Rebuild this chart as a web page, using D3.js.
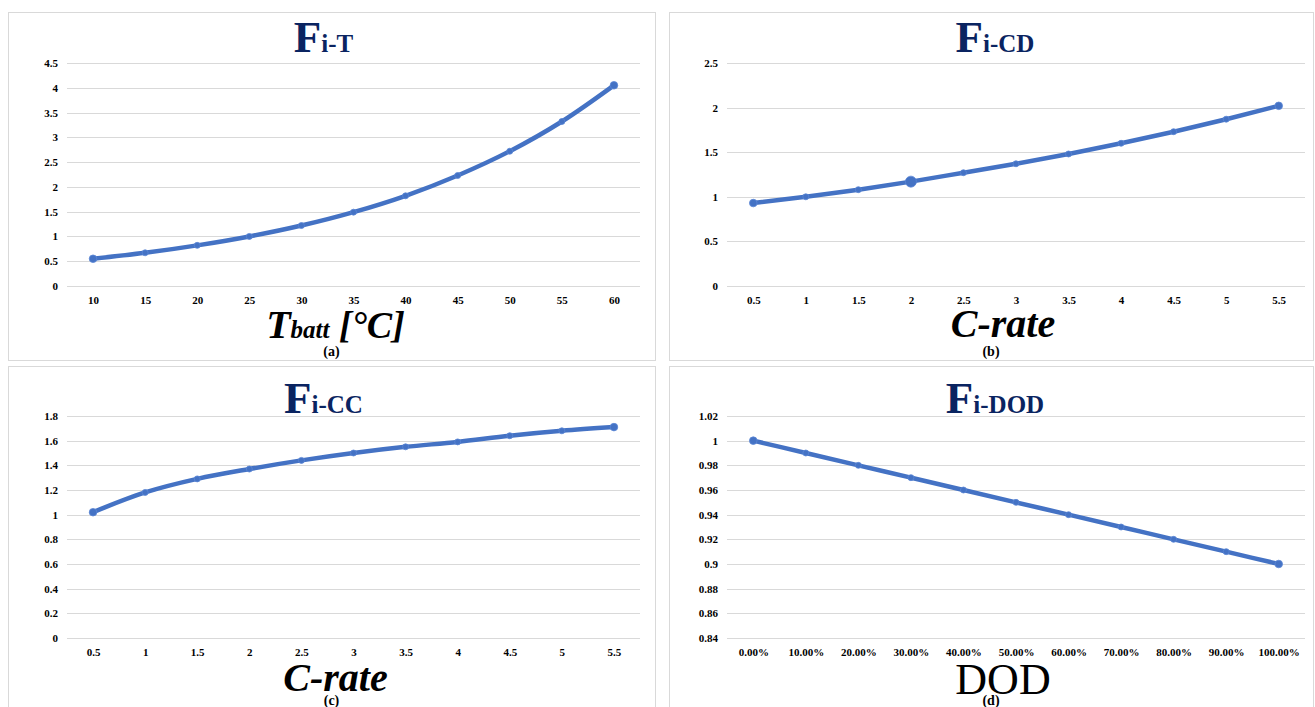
<!DOCTYPE html>
<meta charset="utf-8">
<title>Fi factors</title>
<style>
  body { margin: 0; background: #fff; }
  .tick text { font: bold 11px "Liberation Serif", serif; fill: #000; }
  .grid line { stroke: #d9d9d9; stroke-width: 1; }
  .title { font-family: "Liberation Serif", serif; font-weight: bold; fill: #0a2461; }
  .xtitle { font-family: "Liberation Serif", serif; fill: #000; }
  .sub { font: bold 14px "Liberation Serif", serif; fill: #000; }
</style>
<body>
<svg width="1315" height="707" id="chart"></svg>
<script src="https://d3js.org/d3.v7.min.js"></script>
<script>
// data
var tempCats = ["10", "15", "20", "25", "30", "35", "40", "45", "50", "55", "60"];
var fiT = [0.55, 0.67, 0.82, 1.0, 1.22, 1.49, 1.82, 2.23, 2.72, 3.32, 4.05];
var tTicks = [0, 0.5, 1, 1.5, 2, 2.5, 3, 3.5, 4, 4.5];

var rateCats = ["0.5", "1", "1.5", "2", "2.5", "3", "3.5", "4", "4.5", "5", "5.5"];
var fiCD = [0.93, 1.0, 1.08, 1.17, 1.27, 1.37, 1.48, 1.60, 1.73, 1.87, 2.02];
var cdTicks = [0, 0.5, 1, 1.5, 2, 2.5];

var fiCC = [1.02, 1.18, 1.29, 1.37, 1.44, 1.50, 1.55, 1.59, 1.64, 1.68, 1.71];
var ccTicks = [0, 0.2, 0.4, 0.6, 0.8, 1, 1.2, 1.4, 1.6, 1.8];

var dodCats = ["0.00%", "10.00%", "20.00%", "30.00%", "40.00%", "50.00%", "60.00%", "70.00%", "80.00%", "90.00%", "100.00%"];
var fiDOD = [1.0, 0.99, 0.98, 0.97, 0.96, 0.95, 0.94, 0.93, 0.92, 0.91, 0.90];
var dodTicks = [0.84, 0.86, 0.88, 0.9, 0.92, 0.94, 0.96, 0.98, 1, 1.02];

var svg = d3.select("#chart");

function panel(o) {
  var g = svg.append("g");
  // border
  g.append("rect")
    .attr("x", o.bx + 0.5).attr("y", o.by + 0.5)
    .attr("width", o.bw).attr("height", o.bh)
    .attr("fill", "#fff").attr("stroke", "#d9d9d9");

  var x = d3.scalePoint().domain(o.cats).range([o.left, o.right]).padding(0.5);
  var y = d3.scaleLinear().domain([o.ticks[0], o.ticks[o.ticks.length - 1]]).range([o.bottom, o.top]);

  // gridlines
  g.append("g").attr("class", "grid")
    .selectAll("line").data(o.ticks).enter().append("line")
    .attr("x1", o.left).attr("x2", o.right)
    .attr("y1", function(d) { return Math.round(y(d)) + 0.5; })
    .attr("y2", function(d) { return Math.round(y(d)) + 0.5; });

  var ya = g.append("g").attr("transform", "translate(" + (o.left - 6) + ",0)")
    .call(d3.axisLeft(y).tickValues(o.ticks).tickSize(0).tickFormat(function(d) { return String(+d.toFixed(2)); }));
  ya.select(".domain").remove();

  var xa = g.append("g").attr("transform", "translate(0," + (o.bottom + 7) + ")")
    .call(d3.axisBottom(x).tickSize(0));
  xa.select(".domain").remove();

  var pts = o.cats.map(function(c, i) { return [x(c), y(o.vals[i])]; });
  g.append("path")
    .attr("d", d3.line().curve(d3.curveMonotoneX)(pts))
    .attr("fill", "none").attr("stroke", "#4472c4").attr("stroke-width", 4.5)
    .attr("stroke-linecap", "round");
  g.selectAll("circle.m").data(pts).enter().append("circle")
    .attr("cx", function(d) { return d[0]; })
    .attr("cy", function(d) { return d[1]; })
    .attr("r", function(d, i) { return i === o.big ? 5.5 : (i === 0 || i === pts.length - 1 ? 3.8 : 3); })
    .attr("fill", "#4472c4").attr("stroke", "#5b86d6").attr("stroke-width", 0.8);

  // title
  var cx = o.bx + o.bw / 2;
  var t = g.append("text").attr("class", "title").attr("x", cx + o.tdx).attr("y", o.ty).attr("text-anchor", "middle");
  t.append("tspan").attr("font-size", 45).text("F");
  t.append("tspan").attr("font-size", 25).text(o.tsub);

  // x axis title
  var xt = g.append("text").attr("class", "xtitle").attr("x", cx + o.xdx).attr("y", o.xty).attr("text-anchor", "middle");
  o.xtitle.forEach(function(p) {
    xt.append("tspan").attr("font-size", p.s)
      .attr("font-style", p.i ? "italic" : "normal")
      .attr("font-weight", p.i ? "bold" : "normal").text(p.t);
  });
  g.append("text").attr("class", "sub").attr("x", cx).attr("y", o.suby).attr("text-anchor", "middle").text(o.sub);
}

panel({
  bx: 8, by: 12, bw: 647, bh: 348,
  left: 67, right: 640, top: 63, bottom: 286,
  cats: tempCats, vals: fiT, ticks: tTicks,
  tsub: "i-T", ty: 52, tdx: -8,
  xtitle: [{t: "T", s: 40, i: true}, {t: "batt", s: 25, i: true}, {t: " [°C]", s: 38, i: true}],
  xty: 338, xdx: 4, sub: "(a)", suby: 356
});
panel({
  bx: 669, by: 12, bw: 644, bh: 348,
  left: 727, right: 1305, top: 63, bottom: 286,
  cats: rateCats, vals: fiCD, ticks: cdTicks, big: 3,
  tsub: "i-CD", ty: 52, tdx: 4,
  xtitle: [{t: "C-rate", s: 40, i: true}],
  xty: 337, xdx: 12, sub: "(b)", suby: 356
});
panel({
  bx: 8, by: 366, bw: 647, bh: 345,
  left: 67, right: 640, top: 416, bottom: 638,
  cats: rateCats, vals: fiCC, ticks: ccTicks,
  tsub: "i-CC", ty: 413, tdx: -8,
  xtitle: [{t: "C-rate", s: 40, i: true}],
  xty: 691, xdx: 4, sub: "(c)", suby: 705
});
panel({
  bx: 669, by: 366, bw: 644, bh: 345,
  left: 727, right: 1305, top: 416, bottom: 638,
  cats: dodCats, vals: fiDOD, ticks: dodTicks,
  tsub: "i-DOD", ty: 413, tdx: 4,
  xtitle: [{t: "DOD", s: 44, i: false}],
  xty: 694, xdx: 12, sub: "(d)", suby: 705
});
</script>
</body>
